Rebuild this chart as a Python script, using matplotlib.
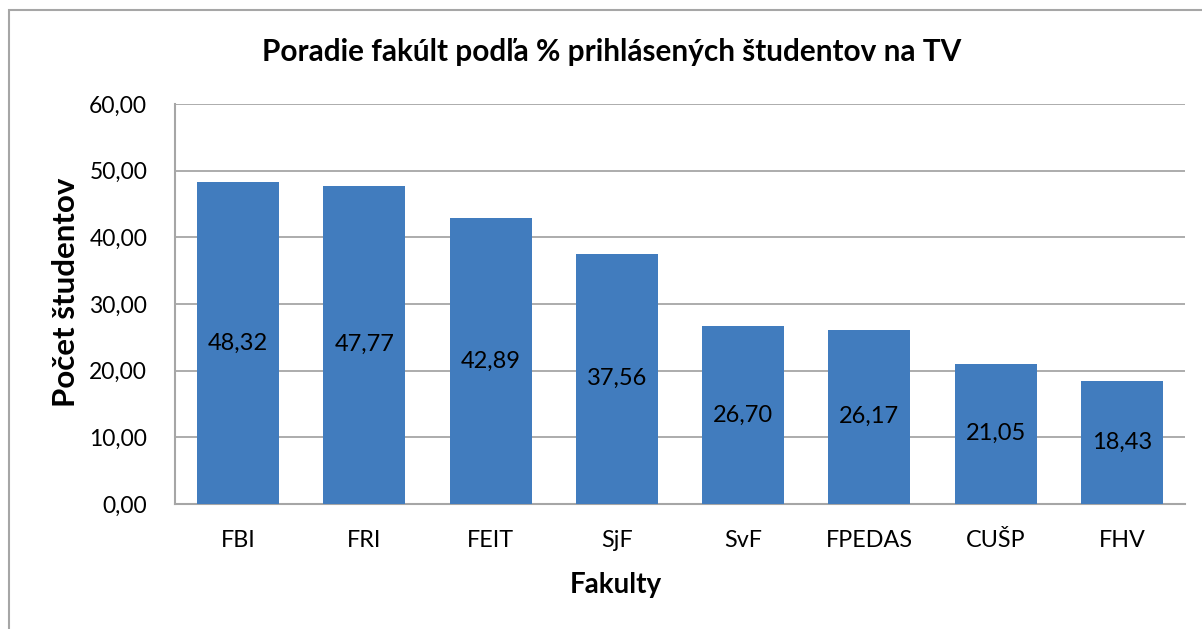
import matplotlib.pyplot as plt
from matplotlib.patches import Rectangle

fakulty = ['FBI', 'FRI', 'FEIT', 'SjF', 'SvF', 'FPEDAS', 'CUŠP', 'FHV']
percenta = [48.32, 47.77, 42.89, 37.56, 26.70, 26.17, 21.05, 18.43]
y_ticks = [0, 10, 20, 30, 40, 50, 60]

plt.rcParams['font.family'] = ['Lato', 'DejaVu Sans']

W, H = 1202, 629
fig = plt.figure(figsize=(W / 100, H / 100), dpi=100)
ax = fig.add_axes([175 / W, 1 - 504 / H, 1010 / W, 400 / H])

bar_color = '#417CBE'
x = range(len(fakulty))
bars = ax.bar(x, percenta, width=0.65, color=bar_color, zorder=3)

# labels in the middle of each bar
for xi, v in zip(x, percenta):
    ax.text(xi, v / 2, f'{v:.2f}'.replace('.', ','), ha='center', va='center',
            fontsize=17, color='black', zorder=4)

ax.set_xlim(-0.5, len(fakulty) - 0.5)
ax.set_ylim(0, 60)
ax.set_yticks(y_ticks)
ax.set_yticklabels([f'{t:.2f}'.replace('.', ',') for t in y_ticks], fontsize=16.5)
ax.set_xticks(list(x))
ax.set_xticklabels(fakulty, fontsize=16.8)
ax.tick_params(axis='both', length=0)
ax.tick_params(axis='y', pad=20)
ax.tick_params(axis='x', pad=19)

ax.grid(axis='y', color='#a6a6a6', linewidth=1.3, zorder=0)
ax.set_axisbelow(True)
for s in ['top', 'right']:
    ax.spines[s].set_visible(False)
for s in ['left', 'bottom']:
    ax.spines[s].set_color('#a6a6a6')
    ax.spines[s].set_linewidth(1.5)

fig.text(612 / W, 1 - 52 / H, 'Poradie fakúlt podľa % prihlásených študentov na TV',
         ha='center', va='center', fontsize=21.4, fontweight='bold')
fig.text(616 / W, 1 - 585 / H, 'Fakulty', ha='center', va='center',
         fontsize=20, fontweight='bold')
fig.text(66 / W, 1 - 292 / H, 'Počet študentov', ha='center', va='center',
         rotation=90, fontsize=22.5, fontweight='bold')

# outer chart border
fig.patches.append(Rectangle((9 / W, -0.1), 1.2, 1 - 10 / H + 0.1,
                             transform=fig.transFigure, fill=False,
                             edgecolor='#a6a6a6', linewidth=1.5))

fig.savefig('out.png', dpi=100)
